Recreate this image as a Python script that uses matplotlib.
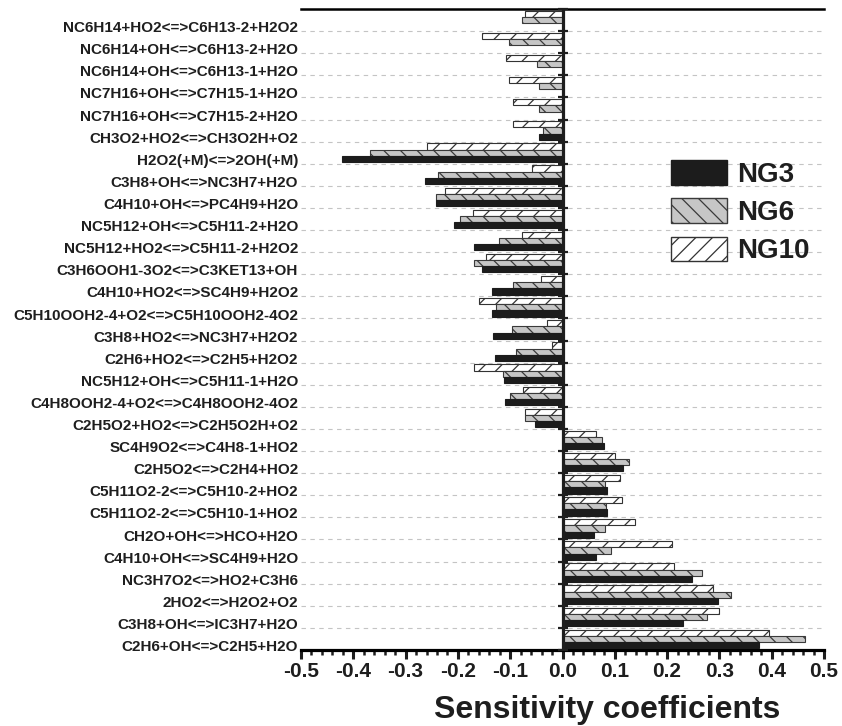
import matplotlib
matplotlib.use("Agg")
import matplotlib.pyplot as plt
from matplotlib.patches import Patch
from matplotlib.ticker import MultipleLocator, FixedLocator
import numpy as np

# reactions, top to bottom
reactions = [
    "NC6H14+HO2<=>C6H13-2+H2O2",
    "NC6H14+OH<=>C6H13-2+H2O",
    "NC6H14+OH<=>C6H13-1+H2O",
    "NC7H16+OH<=>C7H15-1+H2O",
    "NC7H16+OH<=>C7H15-2+H2O",
    "CH3O2+HO2<=>CH3O2H+O2",
    "H2O2(+M)<=>2OH(+M)",
    "C3H8+OH<=>NC3H7+H2O",
    "C4H10+OH<=>PC4H9+H2O",
    "NC5H12+OH<=>C5H11-2+H2O",
    "NC5H12+HO2<=>C5H11-2+H2O2",
    "C3H6OOH1-3O2<=>C3KET13+OH",
    "C4H10+HO2<=>SC4H9+H2O2",
    "C5H10OOH2-4+O2<=>C5H10OOH2-4O2",
    "C3H8+HO2<=>NC3H7+H2O2",
    "C2H6+HO2<=>C2H5+H2O2",
    "NC5H12+OH<=>C5H11-1+H2O",
    "C4H8OOH2-4+O2<=>C4H8OOH2-4O2",
    "C2H5O2+HO2<=>C2H5O2H+O2",
    "SC4H9O2<=>C4H8-1+HO2",
    "C2H5O2<=>C2H4+HO2",
    "C5H11O2-2<=>C5H10-2+HO2",
    "C5H11O2-2<=>C5H10-1+HO2",
    "CH2O+OH<=>HCO+H2O",
    "C4H10+OH<=>SC4H9+H2O",
    "NC3H7O2<=>HO2+C3H6",
    "2HO2<=>H2O2+O2",
    "C3H8+OH<=>IC3H7+H2O",
    "C2H6+OH<=>C2H5+H2O",
]

ng3 = [0.0, 0.0, 0.0, 0.0, 0.0, -0.045, -0.421, -0.262, -0.241, -0.208,
       -0.170, -0.154, -0.135, -0.135, -0.133, -0.130, -0.112, -0.110, -0.052,
       0.080, 0.115, 0.086, 0.086, 0.060, 0.064, 0.247, 0.297, 0.230, 0.375]
ng6 = [-0.077, -0.102, -0.049, -0.045, -0.045, -0.037, -0.368, -0.238, -0.242, -0.196,
       -0.121, -0.169, -0.095, -0.128, -0.096, -0.088, -0.113, -0.100, -0.071,
       0.075, 0.127, 0.082, 0.084, 0.082, 0.093, 0.266, 0.323, 0.276, 0.463]
ng10 = [-0.072, -0.154, -0.108, -0.102, -0.095, -0.095, -0.259, -0.058, -0.224, -0.172,
        -0.077, -0.147, -0.042, -0.159, -0.029, -0.020, -0.169, -0.075, -0.071,
        0.065, 0.101, 0.110, 0.113, 0.138, 0.210, 0.213, 0.287, 0.300, 0.395]

plt.rcParams['font.family'] = ['Liberation Sans', 'DejaVu Sans']
plt.rcParams['font.weight'] = 'bold'
plt.rcParams['axes.unicode_minus'] = False
plt.rcParams['hatch.linewidth'] = 0.9

txt = '#1e1e1e'
fig = plt.figure(figsize=(8.42, 7.26), dpi=100)
ax = fig.add_axes([301/842, 1-650/726, 523/842, 641/726])

n = len(reactions)
pos = np.arange(n)[::-1]
h = 0.28

ax.barh(pos + h, ng10, height=h, color='white', edgecolor='#333333', hatch='//', lw=0.8, zorder=3)
ax.barh(pos, ng6, height=h, color='#c6c6c6', edgecolor='#3a3a3a', hatch='\\\\', lw=0.8, zorder=3)
ax.barh(pos - h, ng3, height=h, color='#1c1c1c', edgecolor='#1c1c1c', lw=0.8, zorder=3)

ax.set_xlim(-0.5, 0.5)
ax.set_ylim(-0.5, n - 0.5)

# x axis
xt = np.round(np.linspace(-0.5, 0.5, 11), 1) + 0.0
ax.set_xticks(xt, labels=["%.1f" % v for v in xt])
ax.xaxis.set_minor_locator(MultipleLocator(0.02))
ax.tick_params(axis='x', which='major', direction='out', length=6.5, width=2.2,
               labelsize=15, pad=2, colors=txt)
ax.tick_params(axis='x', which='minor', direction='out', length=3.5, width=1.8, colors=txt)

# y labels sit just above the boundary lines
bounds = np.arange(n + 1) - 0.5
ax.set_yticks(pos - 0.3, labels=reactions)
ax.yaxis.set_minor_locator(FixedLocator(bounds))
ax.tick_params(axis='y', which='both', length=0, pad=2, labelsize=11, colors=txt)
ax.grid(axis='y', which='minor', ls=(0, (4, 4)), color='#c4c4c4', lw=0.8, zorder=0)

ax.spines['left'].set_visible(False)
ax.spines['right'].set_visible(False)
ax.spines['top'].set_linewidth(1.8)
ax.spines['bottom'].set_linewidth(2.3)

# zero line with tick marks at category boundaries
ax.axvline(0, color=txt, lw=2.3, zorder=4)
ax.plot(np.zeros(n + 1), bounds, ls='none', marker='_', ms=7, mew=1.6, color=txt,
        zorder=4, clip_on=False)

ax.set_xlabel('Sensitivity coefficients', fontsize=23, fontweight='bold', color=txt)
ax.xaxis.set_label_coords(0.585, -0.07)

handles = [
    Patch(facecolor='#1c1c1c', edgecolor='#1c1c1c', label='NG3'),
    Patch(facecolor='#c6c6c6', edgecolor='#3a3a3a', hatch='\\\\', label='NG6'),
    Patch(facecolor='white', edgecolor='#333333', hatch='//', label='NG10'),
]
leg = ax.legend(handles=handles, loc='upper left', bbox_to_anchor=(671/842, 1-160/726),
                bbox_transform=fig.transFigure, frameon=False, fontsize=20,
                handlelength=2.0, handleheight=0.98, handletextpad=0.38,
                labelspacing=0.38, borderpad=0, borderaxespad=0)
for t in leg.get_texts():
    t.set_color(txt)

fig.savefig("out.png", dpi=100)
